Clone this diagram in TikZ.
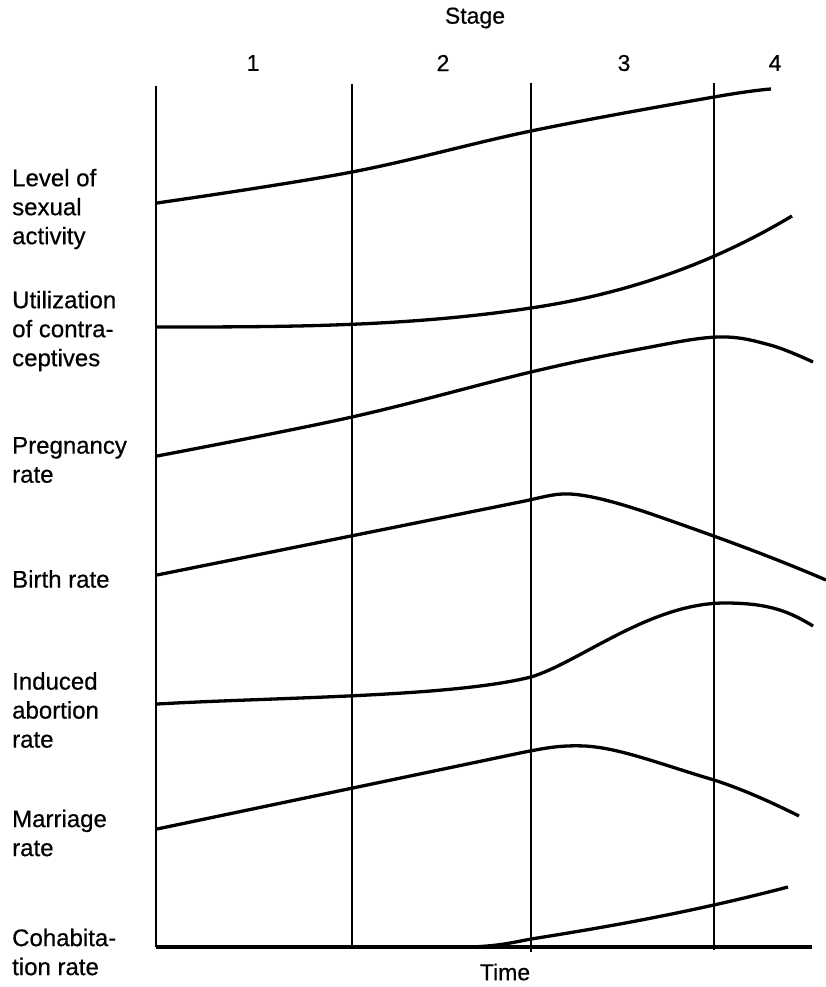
\documentclass[tikz,border=0pt]{standalone}
\usepackage{fontspec}
\setmainfont{Liberation Sans}[FakeBold=0.5]
\begin{document}
\begin{tikzpicture}[x=1pt,y=-1pt,
  lbl/.style={inner sep=0pt, align=left, anchor=west, font=\fontsize{24}{29}\selectfont},
  ttl/.style={inner sep=0pt, font=\fontsize{23}{29}\selectfont},
  grid/.style={line width=1.4pt},
  axis/.style={line width=2.6pt},
  crv/.style={line width=3.3pt}]
\useasboundingbox (0,0) rectangle (826,987);
% axes and stage dividers
\coordinate (a0t) at (156,86);  \coordinate (a0b) at (156,947);
\coordinate (a1t) at (352,84);  \coordinate (a1b) at (352,947);
\coordinate (a2t) at (531,83);  \coordinate (a2b) at (531,952);
\coordinate (a3t) at (714,83);  \coordinate (a3b) at (714,950);
\coordinate (xe) at (812,947);
\draw[axis] (a0t) -- (a0b);
\draw[grid] (a1t) -- (a1b);
\draw[grid] (a2t) -- (a2b);
\draw[grid] (a3t) -- (a3b);
\draw[line width=3.2pt] (a0b) -- (xe);
% level of sexual activity
\draw[crv] plot[smooth, tension=0.6] coordinates {(157,203) (352,172) (531,131) (714,97) (771,89)};
% utilization of contraceptives
\draw[crv] (157,327) .. controls (282,327) and (406,327) .. (531,308)
  .. controls (618,295) and (705,268) .. (792,216);
% pregnancy rate
\draw[crv] plot[smooth, tension=0.6] coordinates {(157,456) (352,417) (531,372) (640,349) (718,337) (770,345) (813,362)};
% birth rate
\draw[crv] (157,575) -- (520,502) .. controls (540,498) and (555,493) .. (570,494)
  .. controls (590,495) and (620,503) .. (660,517)
  .. controls (720,538) and (770,556) .. (826,580);
% induced abortion rate
\draw[crv] (157,704) .. controls (282,697) and (451,697) .. (531,677)
  .. controls (580,662) and (650,603) .. (725,603)
  .. controls (770,603) and (790,612) .. (813,626);
% marriage rate
\draw[crv] (157,829) -- (520,753) .. controls (545,748) and (560,745) .. (585,746)
  .. controls (620,748) and (660,764) .. (714,780)
  .. controls (745,790) and (775,804) .. (799,816);
% cohabitation rate
\draw[crv] (157,947) -- (470,947) .. controls (500,946) and (515,942) .. (531,939)
  .. controls (620,925) and (700,910) .. (788,887);
% titles
\node[ttl] (stage) at (475,18) {Stage};
\node[ttl] (s1) at (253,63) {1};
\node[ttl] (s2) at (443,63) {2};
\node[ttl] (s3) at (624,63) {3};
\node[ttl] (s4) at (775,63) {4};
\node[ttl] (time) at (505,972) {Time};
% row labels
\node[lbl] (l1) at (12,209) {Level of\\sexual\\activity};
\node[lbl] (l2) at (12,331) {Utilization\\of contra-\\ceptives};
\node[lbl] (l3) at (12,460) {Pregnancy\\rate};
\node[lbl] (l4) at (12,579) {Birth rate};
\node[lbl] (l5) at (12,710) {Induced\\abortion\\rate};
\node[lbl] (l6) at (12,833) {Marriage\\rate};
\node[lbl] (l7) at (12,952) {Cohabita-\\tion rate};
\end{tikzpicture}
\end{document}
